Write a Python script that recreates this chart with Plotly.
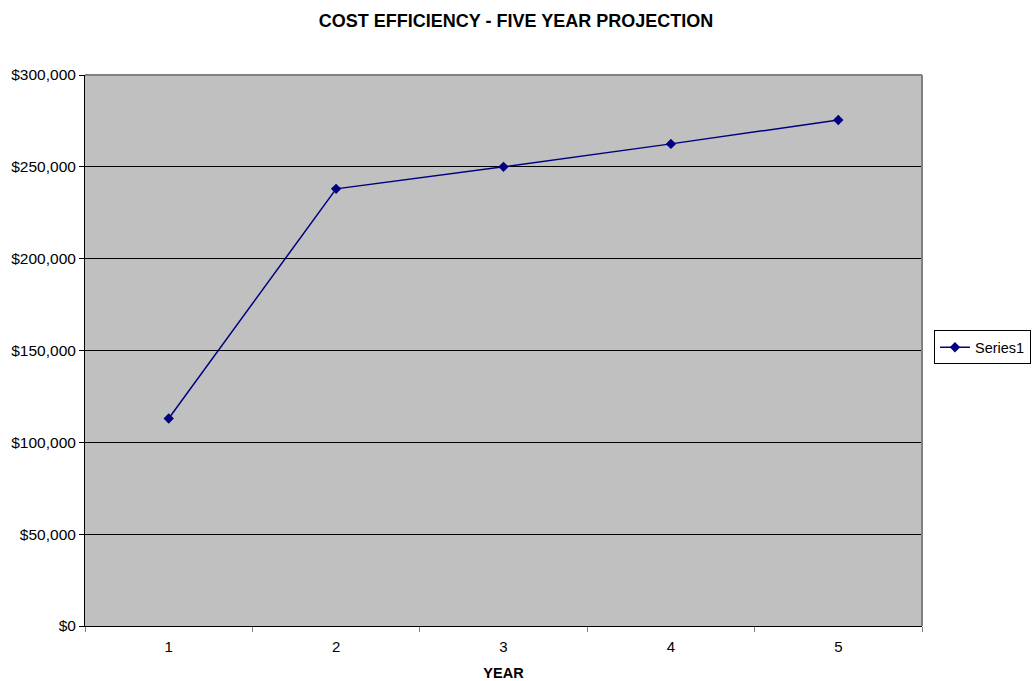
import plotly.graph_objects as go

years = ["1", "2", "3", "4", "5"]
costs = [113000, 238000, 250000, 262500, 275500]
y_ticks = [0, 50000, 100000, 150000, 200000, 250000, 300000]

fig = go.Figure()
fig.add_trace(go.Scatter(
    x=years, y=costs, mode="lines+markers", name="Series1",
    line=dict(color="#000080", width=1.5),
    marker=dict(symbol="diamond", size=8, color="#000080"),
))

fig.update_layout(
    width=1032, height=681,
    margin=dict(l=85, r=110, t=75, b=55, autoexpand=False),
    paper_bgcolor="white", plot_bgcolor="#C0C0C0",
    font=dict(family="Liberation Sans, Arial", size=14, color="black"),
    title=dict(text="<b>COST EFFICIENCY - FIVE YEAR PROJECTION</b>",
               x=0.5, xanchor="center", y=0.97, yanchor="middle",
               font=dict(size=18)),
    showlegend=True,
    legend=dict(xref="container", yref="container",
                x=0.905, xanchor="left", y=0.49, yanchor="middle",
                bordercolor="black", borderwidth=1, bgcolor="white",
                font=dict(size=14.5), itemwidth=30,
                tracegroupgap=0),
)

fig.update_xaxes(
    type="category", range=[-0.5, len(years) - 0.5],
    tickson="boundaries", ticks="outside", ticklen=5,
    tickcolor="#808080", showgrid=False, showline=True, linecolor="black",
    linewidth=1, mirror=False, ticklabelstandoff=7,
    title=dict(text="<b>YEAR</b>", standoff=14, font=dict(size=14.5)),
    tickfont=dict(size=15),
)
fig.update_yaxes(
    range=[0, 300000], tickvals=y_ticks, tickformat="$,.0f",
    ticks="outside", ticklen=5, tickcolor="black",
    showgrid=True, gridcolor="black", gridwidth=1,
    showline=True, linecolor="black", linewidth=1, zeroline=False,
    tickfont=dict(size=15.5),
)

# gray border on top and right of plot area
fig.add_shape(type="line", xref="paper", yref="paper", x0=0, x1=1, y0=1, y1=1,
              line=dict(color="#808080", width=2))
fig.add_shape(type="line", xref="paper", yref="paper", x0=1, x1=1, y0=0, y1=1,
              line=dict(color="#808080", width=2))

fig.write_html(
    "out.html",
    config={"displayModeBar": False},
    post_script="document.body.style.margin='0';document.body.style.overflow='hidden';",
)
